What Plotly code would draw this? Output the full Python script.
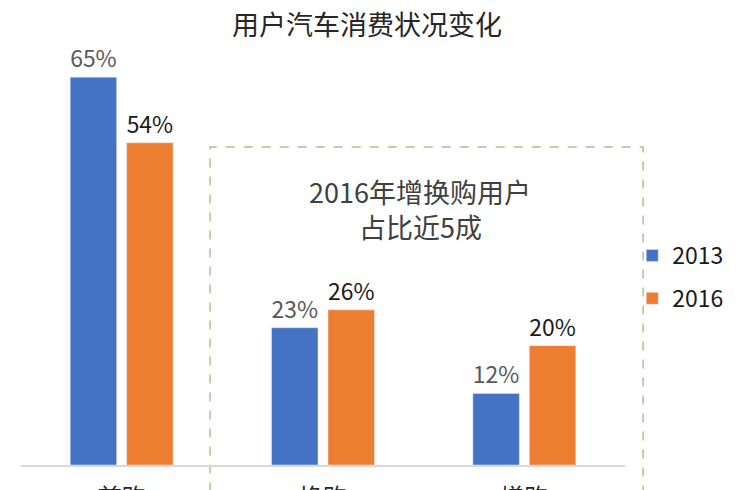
import plotly.graph_objects as go

# chart data
categories = ["首购", "换购", "增购"]
years = ["2013", "2016"]
share_2013 = [65, 23, 12]
share_2016 = [54, 26, 20]

title_text = "用户汽车消费状况变化"
note_lines = ["2016年增换购用户", "占比近5成"]

font_cn = "Noto Sans CJK SC, Noto Sans, sans-serif"

fig = go.Figure()

fig.add_trace(go.Bar(
    name=years[0], x=categories, y=share_2013,
    marker_color="#4472C4", legendgroup="a",
    text=[f"{v}%" for v in share_2013], textposition="outside",
    textfont=dict(size=23, color="#595959"),
    cliponaxis=False,
))
fig.add_trace(go.Bar(
    name=years[1], x=categories, y=share_2016,
    marker_color="#ED7D31", legendgroup="b",
    text=[f"{v}%" for v in share_2016], textposition="outside",
    textfont=dict(size=23, color="#1A1A1A"),
    cliponaxis=False,
))

# the page body adds an 8px offset, so margins are shifted up/left by 8px
fig.update_layout(
    width=744, height=490,
    margin=dict(l=13, r=127, t=62, b=33),
    paper_bgcolor="white", plot_bgcolor="white",
    font=dict(family=font_cn, size=23, color="#262626"),
    barmode="group", bargap=0.439, bargroupgap=0.177,
    showlegend=True,
    legend=dict(x=1.012, xanchor="left", y=0.476, yanchor="middle",
                font=dict(size=23, color="#1A1A1A"),
                traceorder="grouped", tracegroupgap=10,
                itemwidth=30, bgcolor="rgba(0,0,0,0)"),
    title=dict(text=title_text, x=0.4825, xref="container", xanchor="center",
               y=0.965, yref="container", yanchor="middle",
               font=dict(size=27, color="#262626")),
)

fig.update_xaxes(showline=True, linecolor="#D9D9D9", linewidth=1.5,
                 ticks="outside", ticklen=10, tickcolor="rgba(0,0,0,0)",
                 tickfont=dict(size=24, color="#262626"), showgrid=False,
                 automargin=False)
fig.update_yaxes(range=[0, 66.2], visible=False, showgrid=False,
                 automargin=False)

# dashed highlight box around the repeat-purchase groups
fig.add_shape(type="rect", xref="paper", yref="paper",
              x0=0.313, x1=1.030, y0=-0.3, y1=0.805,
              line=dict(color="#A3C98A", width=1.5, dash="dash"),
              fillcolor="rgba(0,0,0,0)", layer="below")

for txt, ypos in zip(note_lines, [0.692, 0.604]):
    fig.add_annotation(text=txt, xref="paper", yref="paper",
                       x=0.661, y=ypos, yanchor="middle", showarrow=False,
                       font=dict(size=27, color="#404040"))

fig.write_html("out.html")
